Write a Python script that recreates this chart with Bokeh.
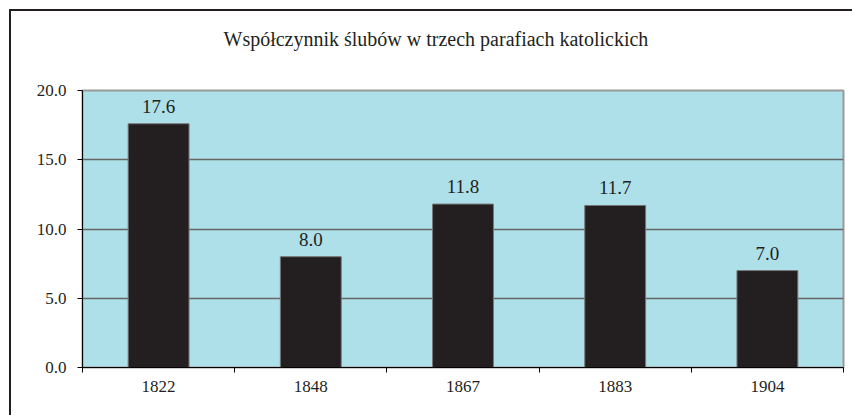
from bokeh.plotting import figure
from bokeh.models import (Range1d, FactorRange, LinearAxis, CategoricalAxis, FixedTicker,
                          PrintfTickFormatter, ColumnDataSource, LabelSet, Title)
from bokeh.embed import file_html
from bokeh.resources import INLINE

title_text = "Współczynnik ślubów w trzech parafiach katolickich"
years = ["1822", "1848", "1867", "1883", "1904"]
values = [17.6, 8.0, 11.8, 11.7, 7.0]
value_labels = ["17.6", "8.0", "11.8", "11.7", "7.0"]
y_ticks = [0, 5, 10, 15, 20]

FONT = "Liberation Serif"
DARK = "#231f20"

src = ColumnDataSource(data=dict(year=years, value=values, label=value_labels))

p = figure(width=843, height=406, output_backend="svg", toolbar_location=None,
           title_location=None,
           x_range=FactorRange(*years, range_padding=0), y_range=Range1d(0, 20),
           x_axis_location=None, y_axis_location=None,
           min_border_left=71, min_border_right=11, min_border_top=79, min_border_bottom=50)

p.styles = {"border-left": f"2px solid {DARK}", "border-top": f"2px solid {DARK}",
            "margin-left": "9px", "margin-top": "9px"}

p.background_fill_color = "#aee0e9"
p.border_fill_color = "white"
p.outline_line_color = "#999999"
p.outline_line_width = 2

# invisible spacer between the plot frame and the title
spacer = LinearAxis(ticker=FixedTicker(ticks=[0]))
spacer.axis_line_color = None
spacer.major_tick_line_color = None
spacer.minor_tick_line_color = None
spacer.major_tick_out = 36
spacer.major_tick_in = 0
spacer.minor_tick_out = 0
spacer.major_label_overrides = {0: ""}
spacer.major_label_text_font_size = "1px"
spacer.major_label_standoff = 0
p.add_layout(spacer, "above")

chart_title = Title(text=title_text, text_font=FONT, text_font_size="20px",
                    text_font_style="normal", text_color=DARK, align="left",
                    offset=141, standoff=10)
p.add_layout(chart_title, "above")

p.vbar(x="year", top="value", width=0.4, source=src, fill_color=DARK,
       line_color="#777777", line_width=1)

labels = LabelSet(x="year", y="value", text="label", source=src, text_align="center",
                  text_baseline="bottom", y_offset=11, text_font=FONT,
                  text_font_size="19px", text_color=DARK)
p.add_layout(labels)

# y axis
yaxis = LinearAxis(ticker=FixedTicker(ticks=y_ticks), formatter=PrintfTickFormatter(format="%.1f"))
yaxis.axis_line_color = "black"
yaxis.major_tick_line_color = "black"
yaxis.major_tick_out = 5
yaxis.major_tick_in = 0
yaxis.minor_tick_line_color = None
yaxis.major_label_text_font = FONT
yaxis.major_label_text_font_size = "17px"
yaxis.major_label_text_color = DARK
yaxis.major_label_standoff = 11
p.add_layout(yaxis, "left")

# x axis tick marks at category boundaries (synthetic factor coordinates)
bounds = list(range(len(years) + 1))
tick_axis = LinearAxis(ticker=FixedTicker(ticks=bounds))
tick_axis.axis_line_color = "black"
tick_axis.major_tick_line_color = "black"
tick_axis.major_tick_out = 5
tick_axis.major_tick_in = 0
tick_axis.minor_tick_line_color = None
tick_axis.major_label_overrides = {b: "" for b in bounds}
tick_axis.major_label_text_font_size = "1px"
tick_axis.major_label_standoff = 0
p.add_layout(tick_axis, "below")

cat_axis = CategoricalAxis()
cat_axis.axis_line_color = None
cat_axis.major_tick_line_color = None
cat_axis.major_label_text_font = FONT
cat_axis.major_label_text_font_size = "17px"
cat_axis.major_label_text_color = DARK
cat_axis.major_label_standoff = 2
p.add_layout(cat_axis, "below")

p.xgrid.visible = False
p.ygrid.ticker = FixedTicker(ticks=y_ticks)
p.ygrid.grid_line_color = "#666666"
p.ygrid.grid_line_width = 1.5

open("out.html", "w").write(file_html(p, INLINE))
